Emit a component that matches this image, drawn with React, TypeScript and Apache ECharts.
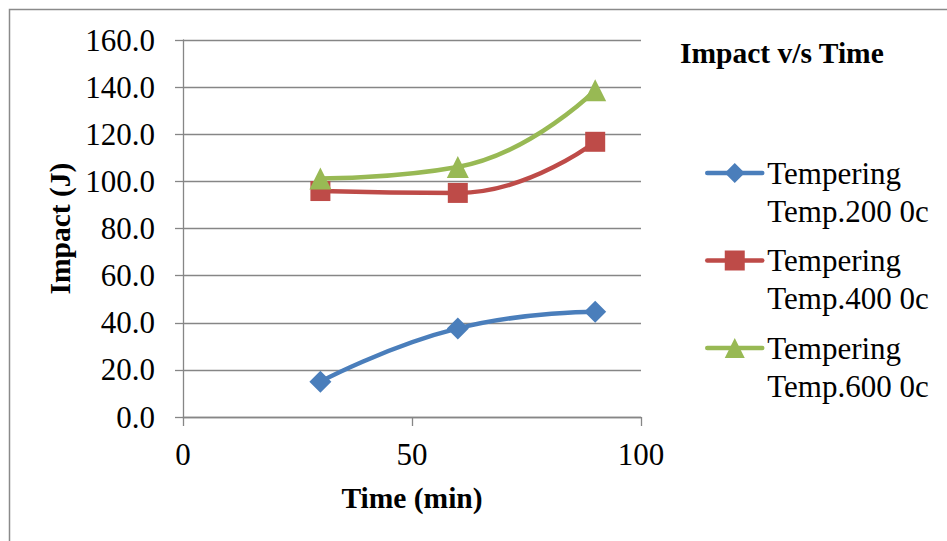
import React, { useEffect, useRef } from "react";
import * as echarts from "echarts";

const times = [30, 60, 90];
const temp200 = [15.0, 37.6, 44.7];
const temp400 = [95.9, 95.1, 116.8];
const temp600 = [101.2, 106.1, 138.7];
const seriesNames = ["Tempering Temp.200 0c", "Tempering Temp.400 0c", "Tempering Temp.600 0c"];
const yTicks = { min: 0, max: 160, interval: 20 };
const xTicks = { min: 0, max: 100, interval: 50 };

const FONT = "'Liberation Serif', 'Times New Roman', serif";
const GRID = "#868686";

export default function App() {
  const ref = useRef<HTMLDivElement>(null);
  useEffect(() => {
    if (!ref.current) return;
    const chart = echarts.init(ref.current, undefined, { renderer: "svg" });
    const mk = (name: string, ys: number[], color: string, symbol: string, size: number) => ({
      name,
      type: "line",
      smooth: 0.5,
      data: times.map((t, i) => [t, ys[i]]),
      symbol,
      symbolSize: size,
      showSymbol: true,
      lineStyle: { color, width: 4.5 },
      itemStyle: { color, borderWidth: 0 },
      emphasis: { disabled: true },
    });
    chart.setOption({
      animation: false,
      textStyle: { fontFamily: FONT },
      graphic: [
        {
          type: "rect",
          shape: { x: 9.5, y: 9.5, width: 1000, height: 600 },
          style: { fill: "none", stroke: "#8a8a8a", lineWidth: 1.5 },
          silent: true,
        },
      ],
      title: {
        text: "Impact v/s Time",
        left: 680,
        top: 38,
        padding: 0,
        textStyle: { fontFamily: FONT, fontSize: 29.5, fontWeight: "bold", color: "#000" },
      },
      legend: {
        orient: "vertical",
        left: 705,
        top: 116,
        padding: 0,
        itemWidth: 55,
        itemHeight: 25,
        itemGap: -26.5,
        data: seriesNames,
        formatter: (n: string) => " \n" + n.replace(" ", "\n"),
        lineStyle: { width: 4.5, cap: "round" },
        textStyle: {
          fontFamily: FONT,
          fontSize: 31,
          color: "#000",
          lineHeight: 38,
        },
      },
      grid: { left: 183, right: 306, top: 40, bottom: 124, containLabel: false },
      xAxis: {
        type: "value",
        min: xTicks.min,
        max: xTicks.max,
        interval: xTicks.interval,
        name: "Time (min)",
        nameLocation: "middle",
        nameGap: 66,
        nameTextStyle: { fontFamily: FONT, fontSize: 29.5, fontWeight: "bold", color: "#000" },
        axisLine: { show: true, lineStyle: { color: GRID, width: 1.3 } },
        axisTick: { show: true, length: 9, lineStyle: { color: GRID, width: 1.3 } },
        axisLabel: { margin: 22, fontFamily: FONT, fontSize: 31, color: "#000" },
        splitLine: { show: false },
      },
      yAxis: {
        type: "value",
        min: yTicks.min,
        max: yTicks.max,
        interval: yTicks.interval,
        name: "Impact (J)",
        nameLocation: "middle",
        nameRotate: 90,
        nameGap: 108,
        nameTextStyle: { fontFamily: FONT, fontSize: 29.5, fontWeight: "bold", color: "#000" },
        axisLine: { show: true, lineStyle: { color: GRID, width: 1.3 } },
        axisTick: { show: true, length: 8, lineStyle: { color: GRID, width: 1.3 } },
        axisLabel: {
          margin: 28,
          fontFamily: FONT,
          fontSize: 31,
          color: "#000",
          formatter: (v: number) => v.toFixed(1),
        },
        splitLine: { show: true, lineStyle: { color: GRID, width: 1.3 } },
      },
      series: [
        mk(seriesNames[0], temp200, "#4A7EBB", "diamond", 22),
        mk(seriesNames[1], temp400, "#BE4B48", "rect", 20),
        mk(seriesNames[2], temp600, "#98B954", "triangle", 22),
      ],
    });
    return () => chart.dispose();
  }, []);
  return (
    <div
      ref={ref}
      style={{ position: "absolute", left: 0, top: 0, width: 947, height: 541, background: "#fff" }}
    />
  );
}
